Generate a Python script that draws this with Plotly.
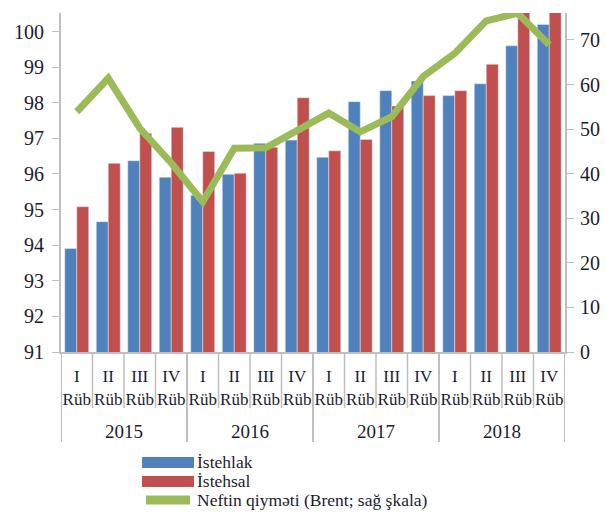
import plotly.graph_objects as go

years = ["2015"] * 4 + ["2016"] * 4 + ["2017"] * 4 + ["2018"] * 4
quarters = ["I", "II", "III", "IV"] * 4
quarter_suffix = "Rüb"

istehlak = [93.91, 94.66, 96.37, 95.91, 95.4, 95.99, 96.86, 96.95,
            96.47, 98.03, 98.34, 98.61, 98.20, 98.53, 99.60, 100.20]
istehsal = [95.08, 96.30, 97.14, 97.31, 96.63, 96.02, 96.75, 98.14,
            96.65, 96.97, 97.91, 98.20, 98.34, 99.08, 101.0, 101.0]
brent = [53.9, 61.4, 50.2, 42.4, 33.7, 45.7, 45.8, 49.6,
         53.6, 49.4, 52.8, 61.8, 67.0, 74.3, 76.0, 68.9]

series_names = ["İstehlak", "İstehsal", "Neftin qiyməti (Brent; sağ şkala)"]

left_ticks = [91, 92, 93, 94, 95, 96, 97, 98, 99, 100]
right_ticks = [0, 10, 20, 30, 40, 50, 60, 70]

BLUE = "#4F81BD"
RED = "#C0504D"
GREEN = "#9BBB59"
AXIS = "#BFBFBF"
TXT = "#1C1C30"
FONT = "Liberation Serif, Times New Roman, serif"
colors = [BLUE, RED, GREEN]

# geometry (pixels)
W, H = 605, 515
L, R, T, B = 61, 40, 13, 10
pw = W - L - R
ph = H - T - B
plot_bottom = 352


def fy(px):
    return 1 - (px - T) / ph


def fx(px):
    return (px - L) / pw


keys = [f"{y}-{q}" for y, q in zip(years, quarters)]
ticktext = [f"{q}<br>{quarter_suffix}" for q in quarters]

fig = go.Figure()
fig.add_trace(go.Bar(x=keys, y=istehlak, marker_color=BLUE,
                     name=series_names[0], showlegend=False))
fig.add_trace(go.Bar(x=keys, y=istehsal, marker_color=RED,
                     name=series_names[1], showlegend=False))
fig.add_trace(go.Scatter(x=keys, y=brent, mode="lines", yaxis="y2",
                         name=series_names[2],
                         line=dict(color=GREEN, width=7), showlegend=False))

shapes = []
annotations = []
n = len(keys)
# category separators and year dividers
for i in range(n + 1):
    is_year = (i % 4 == 0)
    shapes.append(dict(type="line", xref="x", yref="paper",
                       x0=i - 0.5, x1=i - 0.5,
                       y0=fy(plot_bottom), y1=fy(442 if is_year else 408),
                       line=dict(color=AXIS, width=2 if is_year else 1.5)))
# year labels
for y in sorted(set(years)):
    idx = [i for i, v in enumerate(years) if v == y]
    annotations.append(dict(text=y, xref="x", yref="paper",
                            x=sum(idx) / len(idx), y=fy(431),
                            showarrow=False, yanchor="middle",
                            font=dict(family=FONT, size=19, color=TXT)))
# legend (drawn)
for k, (nm, c) in enumerate(zip(series_names, colors)):
    cy = 462 + 19 * k
    if k < 2:
        shapes.append(dict(type="rect", xref="paper", yref="paper",
                           x0=fx(142), x1=fx(194), y0=fy(cy - 5), y1=fy(cy + 6),
                           fillcolor=c, line=dict(width=0)))
    else:
        shapes.append(dict(type="line", xref="paper", yref="paper",
                           x0=fx(146), x1=fx(190), y0=fy(cy), y1=fy(cy),
                           line=dict(color=c, width=9)))
    annotations.append(dict(text=nm, xref="paper", yref="paper",
                            x=fx(196), y=fy(cy), xanchor="left",
                            yanchor="middle", showarrow=False,
                            borderpad=0,
                            font=dict(family=FONT, size=17.5, color=TXT)))

fig.update_layout(
    width=W, height=H,
    margin=dict(l=L, r=R, t=T, b=B),
    paper_bgcolor="white", plot_bgcolor="white",
    barmode="group", bargap=0.24, bargroupgap=0,
    font=dict(family=FONT, size=16, color=TXT),
    showlegend=False,
    shapes=shapes, annotations=annotations,
    xaxis=dict(type="category", tickvals=keys, ticktext=ticktext,
               showgrid=False, showline=True, linecolor=AXIS, linewidth=2,
               ticks="", tickangle=0, ticklabelstandoff=8,
               tickfont=dict(family=FONT, size=17, color=TXT),
               automargin=False, range=[-0.5, n - 0.5]),
    yaxis=dict(range=[91, 100.52], tickvals=left_ticks, showgrid=False,
               domain=[fy(plot_bottom), 1],
               showline=True, linecolor=AXIS, linewidth=2, ticks="outside",
               ticklen=7, tickcolor=AXIS, zeroline=False, automargin=False,
               ticklabelstandoff=4,
               tickfont=dict(family=FONT, size=20, color=TXT)),
    yaxis2=dict(range=[0, 76.05], tickvals=right_ticks, overlaying="y",
                side="right", showgrid=False, showline=True, linecolor=AXIS,
                linewidth=2, ticks="outside", ticklen=7, tickcolor=AXIS,
                zeroline=False, automargin=False, ticklabelstandoff=2,
                tickfont=dict(family=FONT, size=20, color=TXT)),
)

fig.write_html("out.html", config={"displayModeBar": False},
               post_script="document.body.style.margin='0';document.body.style.overflow='hidden';")
